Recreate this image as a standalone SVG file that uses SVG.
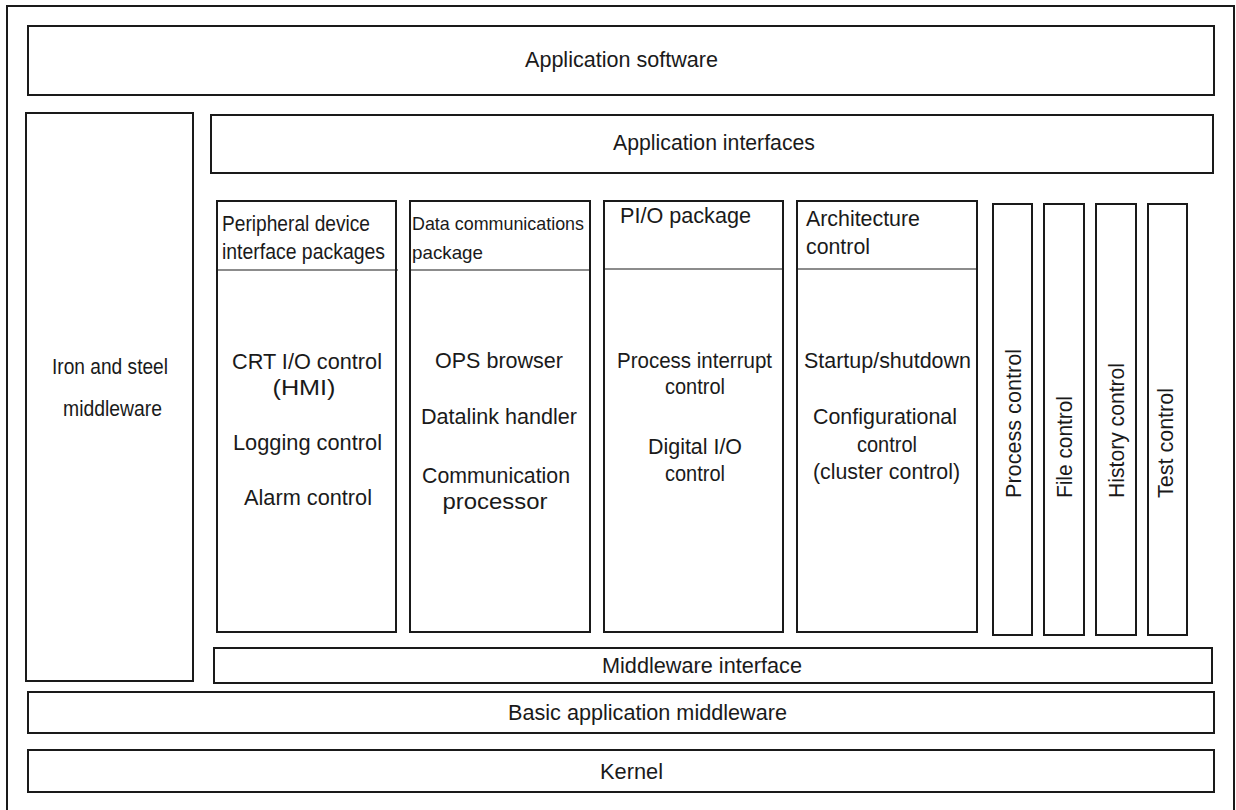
<svg xmlns="http://www.w3.org/2000/svg" width="1236" height="810" viewBox="0 0 1236 810">
<style>
.b{fill:#fff;stroke:#1a1a1a;stroke-width:2}
.d{stroke:#1a1a1a;stroke-width:1.2}
text{font-family:"Liberation Sans",Arial,sans-serif;font-size:21.5px;fill:#1a1a1a}
.c{text-anchor:middle}
.s{font-size:19px}
</style>
<rect x="0" y="0" width="1236" height="810" fill="#fff"/>
<g id="frame"><rect class="b" x="7" y="6" width="1227" height="820"/></g>
<g id="app-software"><rect class="b" x="28" y="26" width="1186" height="69"/><text class="c" x="621.5" y="67" textLength="193" lengthAdjust="spacingAndGlyphs">Application software</text></g>
<g id="iron-steel"><rect class="b" x="26" y="113" width="167" height="568"/><text class="c" x="110" y="374" textLength="116" lengthAdjust="spacingAndGlyphs">Iron and steel</text><text class="c" x="112.5" y="416" textLength="99" lengthAdjust="spacingAndGlyphs">middleware</text></g>
<g id="app-interfaces"><rect class="b" x="211" y="115" width="1002" height="58"/><text class="c" x="714" y="150" textLength="202" lengthAdjust="spacingAndGlyphs">Application interfaces</text></g>
<g id="peripheral"><rect class="b" x="217" y="201" width="179" height="431"/><line class="d" x1="217" y1="270" x2="398" y2="270"/>
<text x="222" y="231" textLength="148" lengthAdjust="spacingAndGlyphs">Peripheral device</text>
<text x="222" y="259" textLength="163" lengthAdjust="spacingAndGlyphs">interface packages</text>
<text class="c" x="307" y="369" textLength="150" lengthAdjust="spacingAndGlyphs">CRT I/O control</text>
<text class="c" x="304" y="395" textLength="63" lengthAdjust="spacingAndGlyphs">(HMI)</text>
<text class="c" x="307.5" y="450" textLength="149" lengthAdjust="spacingAndGlyphs">Logging control</text>
<text class="c" x="308" y="505" textLength="128" lengthAdjust="spacingAndGlyphs">Alarm control</text></g>
<g id="datacomm"><rect class="b" x="410" y="201" width="180" height="431"/><line class="d" x1="410" y1="270" x2="591" y2="270"/>
<text class="s" x="412" y="230" textLength="172" lengthAdjust="spacingAndGlyphs">Data communications</text>
<text class="s" x="412" y="259" textLength="71" lengthAdjust="spacingAndGlyphs">package</text>
<text class="c" x="499" y="368" textLength="128" lengthAdjust="spacingAndGlyphs">OPS browser</text>
<text class="c" x="499" y="424" textLength="156" lengthAdjust="spacingAndGlyphs">Datalink handler</text>
<text class="c" x="496" y="483" textLength="148" lengthAdjust="spacingAndGlyphs">Communication</text>
<text class="c" x="495" y="509" textLength="105" lengthAdjust="spacingAndGlyphs">processor</text></g>
<g id="pio"><rect class="b" x="604" y="201" width="179" height="431"/><line class="d" x1="604" y1="269" x2="784" y2="269"/>
<text class="c" x="685.5" y="223" textLength="131" lengthAdjust="spacingAndGlyphs">PI/O package</text>
<text class="c" x="694.5" y="368" textLength="155" lengthAdjust="spacingAndGlyphs">Process interrupt</text>
<text class="c" x="695" y="394" textLength="60" lengthAdjust="spacingAndGlyphs">control</text>
<text class="c" x="695" y="454" textLength="94" lengthAdjust="spacingAndGlyphs">Digital I/O</text>
<text class="c" x="695" y="481" textLength="60" lengthAdjust="spacingAndGlyphs">control</text></g>
<g id="architecture"><rect class="b" x="797" y="201" width="180" height="431"/><line class="d" x1="797" y1="269" x2="977" y2="269"/>
<text x="806" y="226" textLength="114" lengthAdjust="spacingAndGlyphs">Architecture</text>
<text x="806" y="254" textLength="64" lengthAdjust="spacingAndGlyphs">control</text>
<text class="c" x="887.5" y="368" textLength="167" lengthAdjust="spacingAndGlyphs">Startup/shutdown</text>
<text class="c" x="885" y="424" textLength="144" lengthAdjust="spacingAndGlyphs">Configurational</text>
<text class="c" x="887" y="452" textLength="60" lengthAdjust="spacingAndGlyphs">control</text>
<text class="c" x="886.5" y="479" textLength="147" lengthAdjust="spacingAndGlyphs">(cluster control)</text></g>
<g id="process-control"><rect class="b" x="993" y="204" width="39" height="431"/><text transform="translate(1021,498) rotate(-90)" textLength="149" lengthAdjust="spacingAndGlyphs">Process control</text></g>
<g id="file-control"><rect class="b" x="1044" y="204" width="40" height="431"/><text transform="translate(1071.5,498) rotate(-90)" textLength="102" lengthAdjust="spacingAndGlyphs">File control</text></g>
<g id="history-control"><rect class="b" x="1096" y="204" width="40" height="431"/><text transform="translate(1123.5,498) rotate(-90)" textLength="135" lengthAdjust="spacingAndGlyphs">History control</text></g>
<g id="test-control"><rect class="b" x="1148" y="204" width="39" height="431"/><text transform="translate(1172.5,498) rotate(-90)" textLength="110" lengthAdjust="spacingAndGlyphs">Test control</text></g>
<g id="middleware-interface"><rect class="b" x="214" y="648" width="998" height="35"/><text class="c" x="702" y="673" textLength="200" lengthAdjust="spacingAndGlyphs">Middleware interface</text></g>
<g id="basic-middleware"><rect class="b" x="28" y="692" width="1186" height="41"/><text class="c" x="647.5" y="720" textLength="279" lengthAdjust="spacingAndGlyphs">Basic application middleware</text></g>
<g id="kernel"><rect class="b" x="28" y="750" width="1186" height="42"/><text class="c" x="631.5" y="779" textLength="63" lengthAdjust="spacingAndGlyphs">Kernel</text></g>
<g id="connectors"></g>
</svg>
